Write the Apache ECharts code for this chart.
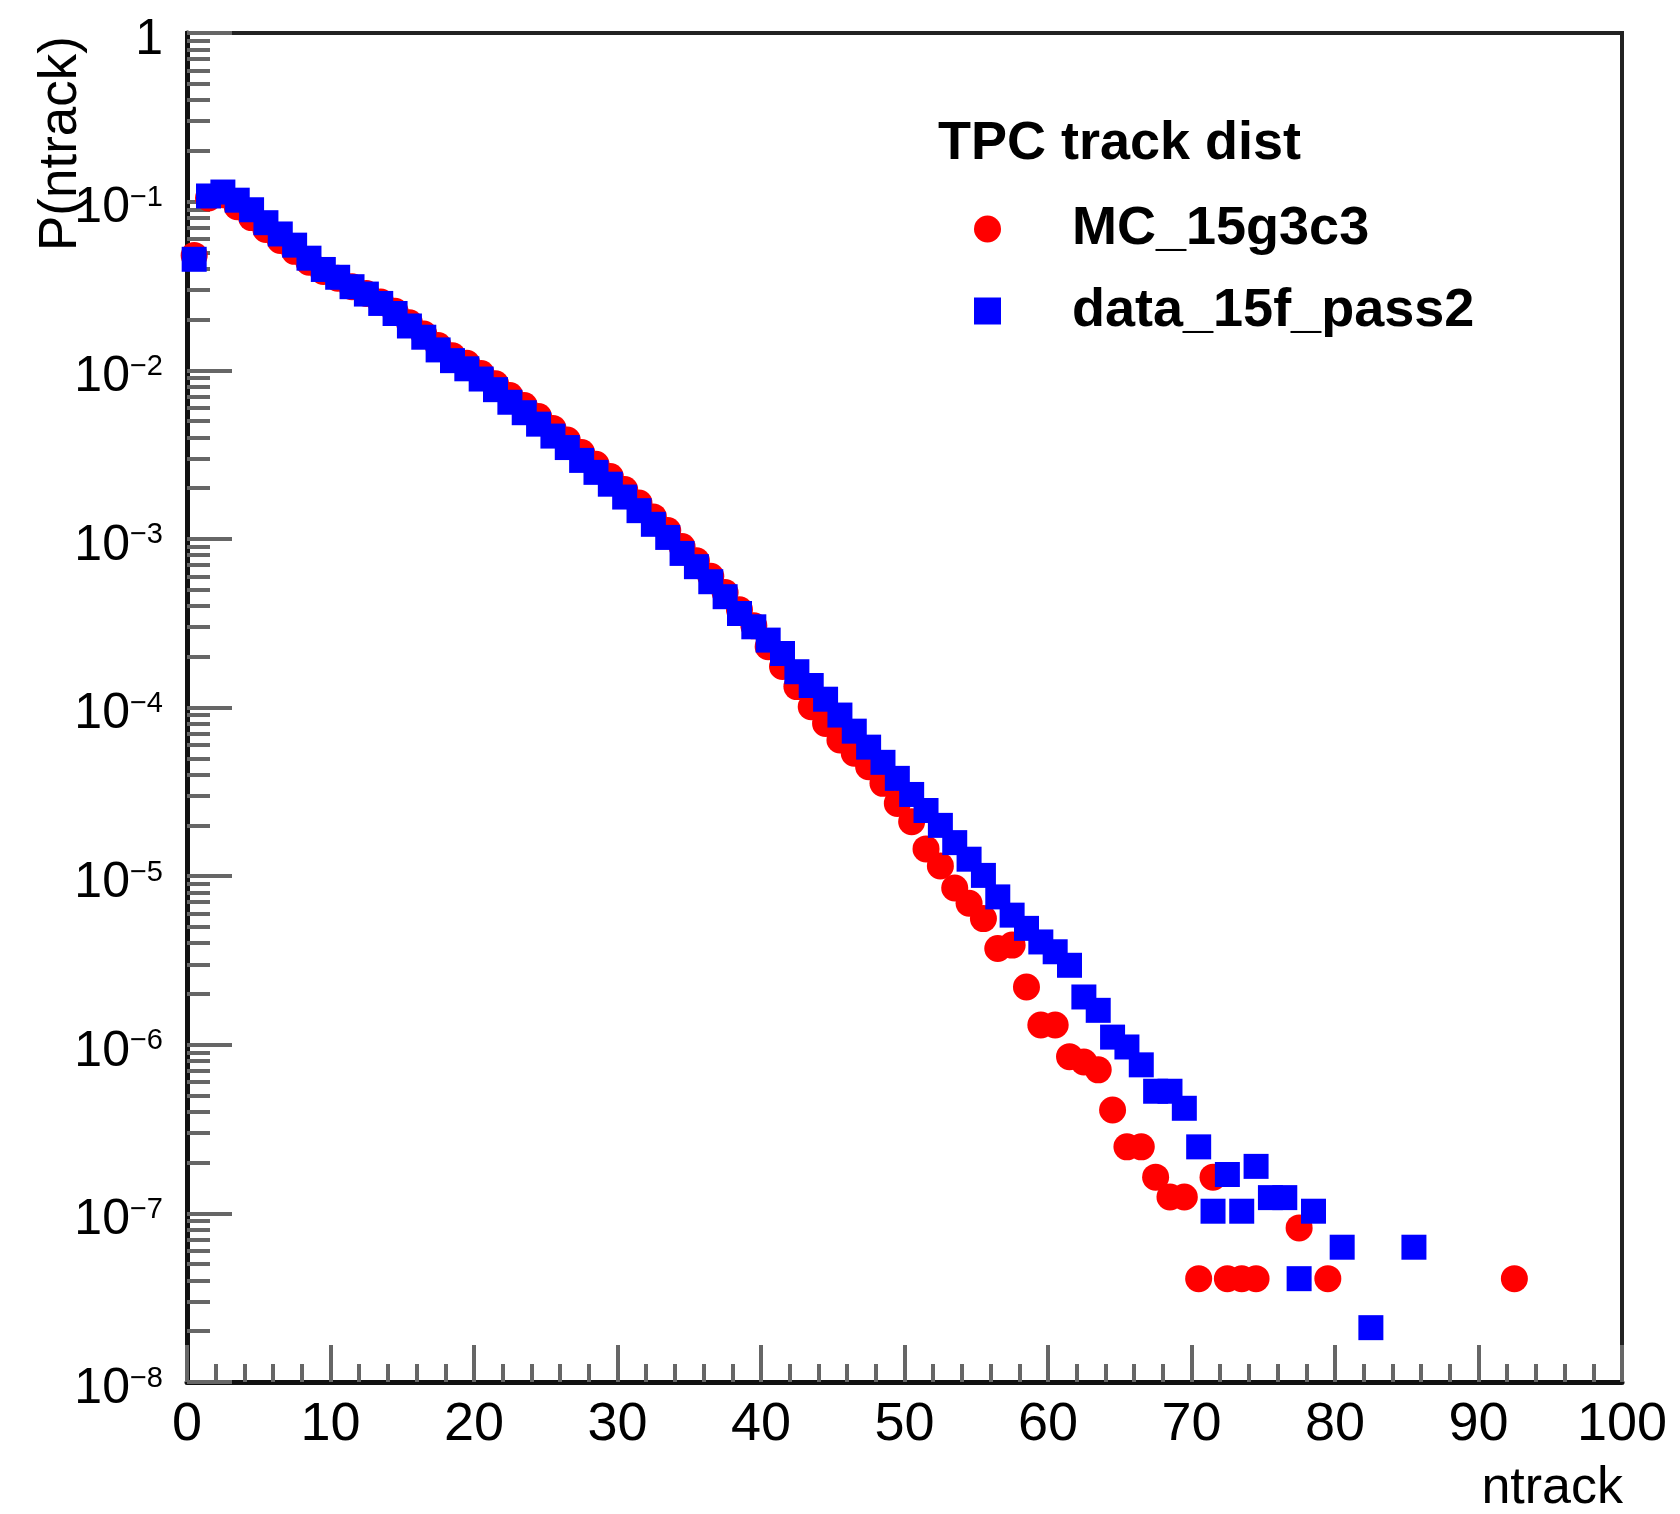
<!DOCTYPE html>
<html>
<head>
<meta charset="utf-8">
<script src="https://cdn.jsdelivr.net/npm/echarts@6/dist/echarts.min.js"></script>
<style>
html,body{margin:0;padding:0;background:#fff;}
#c{width:1680px;height:1514px;}
</style>
</head>
<body>
<div id="c"></div>
<script>
// ---- data (bin centres and P(ntrack)) ----
const mcX = [0.5,1.5,2.5,3.5,4.5,5.5,6.5,7.5,8.5,9.5,10.5,11.5,12.5,13.5,14.5,15.5,16.5,17.5,18.5,19.5,
  20.5,21.5,22.5,23.5,24.5,25.5,26.5,27.5,28.5,29.5,30.5,31.5,32.5,33.5,34.5,35.5,36.5,37.5,38.5,39.5,
  40.5,41.5,42.5,43.5,44.5,45.5,46.5,47.5,48.5,49.5,50.5,51.5,52.5,53.5,54.5,55.5,56.5,57.5,58.5,59.5,
  60.5,61.5,62.5,63.5,64.5,65.5,66.5,67.5,68.5,69.5,70.5,71.5,72.5,73.5,74.5,77.5,79.5,92.5];
const mcY = [0.048,0.105,0.110,0.0933,0.0804,0.0684,0.0589,0.0507,0.0437,0.0385,
  0.0351,0.0313,0.0285,0.0254,0.0224,0.0191,0.0164,0.0140,0.0122,0.0110,
  0.00955,0.00832,0.00708,0.00617,0.00531,0.00452,0.00386,0.00325,0.00277,0.00234,
  0.00196,0.00163,0.00135,0.00112,0.000902,0.000741,0.000600,0.000481,0.000380,0.000305,
  0.000229,0.000175,0.000133,0.000101,8.05e-5,6.41e-5,5.35e-5,4.45e-5,3.55e-5,2.70e-5,
  2.10e-5,1.45e-5,1.15e-5,8.5e-6,6.9e-6,5.6e-6,3.72e-6,3.9e-6,2.2e-6,1.31e-6,
  1.31e-6,8.5e-7,7.9e-7,7.1e-7,4.1e-7,2.48e-7,2.48e-7,1.64e-7,1.25e-7,1.25e-7,
  4.1e-8,1.64e-7,4.1e-8,4.1e-8,4.1e-8,8.2e-8,4.1e-8,4.1e-8];

const dataX = [0.5,1.5,2.5,3.5,4.5,5.5,6.5,7.5,8.5,9.5,10.5,11.5,12.5,13.5,14.5,15.5,16.5,17.5,18.5,19.5,
  20.5,21.5,22.5,23.5,24.5,25.5,26.5,27.5,28.5,29.5,30.5,31.5,32.5,33.5,34.5,35.5,36.5,37.5,38.5,39.5,
  40.5,41.5,42.5,43.5,44.5,45.5,46.5,47.5,48.5,49.5,50.5,51.5,52.5,53.5,54.5,55.5,56.5,57.5,58.5,59.5,
  60.5,61.5,62.5,63.5,64.5,65.5,66.5,67.5,68.5,69.5,70.5,71.5,72.5,73.5,74.5,75.5,76.5,77.5,78.5,
  80.5,82.5,85.5];
const dataY = [0.0455,0.108,0.114,0.102,0.0895,0.0750,0.0643,0.0552,0.0462,0.0396,
  0.0356,0.0313,0.0283,0.0249,0.0217,0.0183,0.0157,0.0132,0.0114,0.0102,
  0.00887,0.00767,0.00646,0.00560,0.00479,0.00407,0.00348,0.00292,0.00248,0.00211,
  0.00177,0.00147,0.00122,0.00102,0.00082,0.000684,0.000557,0.000454,0.000361,0.000301,
  0.000251,0.000209,0.000163,0.000135,0.000112,9.02e-5,7.24e-5,5.82e-5,4.73e-5,3.80e-5,
  3.05e-5,2.45e-5,2.00e-5,1.58e-5,1.26e-5,1.01e-5,7.53e-6,5.87e-6,4.90e-6,4.07e-6,
  3.56e-6,2.96e-6,1.92e-6,1.60e-6,1.11e-6,9.7e-7,7.6e-7,5.3e-7,5.3e-7,4.2e-7,
  2.48e-7,1.03e-7,1.7e-7,1.03e-7,1.9e-7,1.24e-7,1.24e-7,4.1e-8,1.03e-7,
  6.3e-8,2.1e-8,6.3e-8];

const seriesNames = ['MC_15g3c3', 'data_15f_pass2'];
const legendTitle = 'TPC track dist';
const xName = 'ntrack';
const yName = 'P(ntrack)';
const yDecades = [1e-8,1e-7,1e-6,1e-5,1e-4,1e-3,1e-2,1e-1,1];
const yMinorMult = [2,3,4,5,6,7,8,9];

// ---- chart ----
const FONT = '"Liberation Sans", Arial, Helvetica, sans-serif';
const yMinor = [];
for (let i = 0; i < yDecades.length - 1; i++) {
  for (const m of yMinorMult) yMinor.push(m * yDecades[i]);
}
const tickStyle = {color: '#666', width: 4};

const chart = echarts.init(document.getElementById('c'), null, {renderer: 'canvas'});
chart.setOption({
  animation: false,
  backgroundColor: '#ffffff',
  textStyle: {fontFamily: FONT},
  title: {
    text: legendTitle, left: 938, top: 117, padding: 0,
    textStyle: {fontFamily: FONT, fontSize: 54, fontWeight: 'bold', color: '#000', lineHeight: 54}
  },
  legend: {
    orient: 'vertical', left: 974, top: 202, padding: 0,
    itemWidth: 27, itemHeight: 27, itemGap: 28, selectedMode: false,
    data: [{name: seriesNames[0], icon: 'circle'}, {name: seriesNames[1], icon: 'rect'}],
    textStyle: {fontFamily: FONT, fontSize: 54, fontWeight: 'bold', color: '#000', padding: [0, 0, 0, 66]}
  },
  grid: {left: 187, top: 33, right: 58, bottom: 132, show: true, borderColor: '#222', borderWidth: 4, backgroundColor: 'transparent'},
  xAxis: {
    type: 'value', min: 0, max: 100, interval: 10,
    axisLine: {show: true, lineStyle: {color: '#111', width: 5}},
    axisTick: {show: true, inside: true, length: 37, lineStyle: tickStyle},
    minorTick: {show: true, splitNumber: 5, length: 18, lineStyle: tickStyle},
    splitLine: {show: false},
    axisLabel: {fontFamily: FONT, fontSize: 54, color: '#000', margin: 16}
  },
  yAxis: [{
    type: 'log', logBase: 10, min: 1e-8, max: 1, position: 'left',
    axisLine: {show: true, lineStyle: {color: '#111', width: 5}},
    axisTick: {show: true, inside: true, length: 45, customValues: yDecades, lineStyle: tickStyle},
    splitLine: {show: false},
    axisLabel: {
      customValues: yDecades, margin: 24, color: '#000', padding: [14, 0, 0, 0],
      formatter: function (v) {
        const e = Math.round(Math.log10(v));
        if (e === 0) return '{b|1}';
        return '{b|10}{s|' + (e < 0 ? '\u2212' : '') + Math.abs(e) + '}';
      },
      rich: {
        b: {fontFamily: FONT, fontSize: 50, lineHeight: 50, color: '#000'},
        s: {fontFamily: FONT, fontSize: 29, lineHeight: 22, verticalAlign: 'top', color: '#000'}
      }
    }
  }, {
    type: 'log', logBase: 10, min: 1e-8, max: 1, position: 'left',
    axisLine: {show: false},
    axisTick: {show: true, inside: true, length: 23, customValues: yMinor, lineStyle: tickStyle},
    axisLabel: {show: false},
    splitLine: {show: false}
  }],
  series: [{
    type: 'scatter', name: seriesNames[0], yAxisIndex: 0, clip: false,
    data: mcX.map((x, i) => [x, mcY[i]]),
    symbol: 'circle', symbolSize: 27,
    itemStyle: {color: '#ff0000', opacity: 1}, z: 3
  }, {
    type: 'scatter', name: seriesNames[1], yAxisIndex: 0, clip: false,
    data: dataX.map((x, i) => [x, dataY[i]]),
    symbol: 'rect', symbolSize: 25,
    itemStyle: {color: '#0000ff', opacity: 1}, z: 4
  }],
  graphic: [{
    type: 'text', x: 1623, y: 1515, z: 10,
    style: {text: xName, font: '52px ' + FONT, fill: '#000', align: 'right', verticalAlign: 'bottom', textAlign: 'right', textVerticalAlign: 'bottom'}
  }, {
    type: 'text', x: 88, y: 36, rotation: Math.PI / 2, z: 10,
    style: {text: yName, font: '53px ' + FONT, fill: '#000', align: 'right', verticalAlign: 'bottom', textAlign: 'right', textVerticalAlign: 'bottom'}
  }]
});
</script>
</body>
</html>
